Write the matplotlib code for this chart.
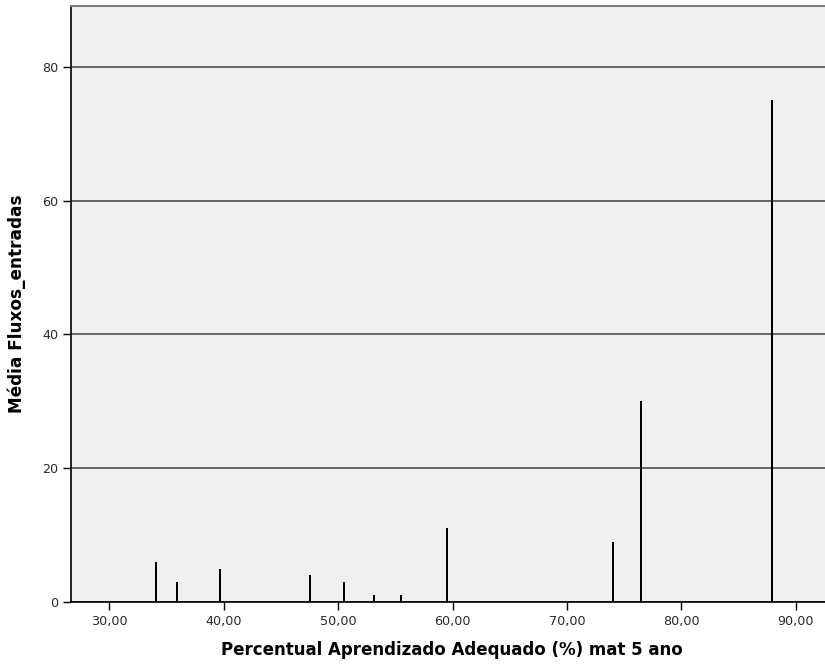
import matplotlib.pyplot as plt

percentual = [34.11, 35.89, 39.65, 47.54, 50.55, 53.17, 55.53, 59.49, 74.0, 76.45, 87.96]
media_fluxos = [6, 3, 5, 4, 3, 1, 1, 11, 9, 30, 75]
xticks = [30, 40, 50, 60, 70, 80, 90]
yticks = [0, 20, 40, 60, 80]

plt.rcParams["font.family"] = ["DejaVu Sans"]

fig = plt.figure(figsize=(8.25, 6.66), dpi=100)
ax = fig.add_axes([71 / 825, 64 / 666, 1 - 71 / 825, 596 / 666])
ax.set_facecolor("#F0F0F0")

ax.set_xlim(26.65, 92.56)
ax.set_ylim(0, 89.1)

ax.set_yticks(yticks)
ax.set_yticklabels([str(v) for v in yticks])
ax.set_xticks(xticks)
ax.set_xticklabels([f"{v:.2f}".replace(".", ",") for v in xticks])

ax.grid(axis="y", color="#666666", linewidth=1.4)
ax.set_axisbelow(True)

ax.bar(percentual, media_fluxos, width=0.17, color="black", zorder=3)

for side in ["left", "bottom"]:
    ax.spines[side].set_color("black")
    ax.spines[side].set_linewidth(1.2)
ax.spines["top"].set_color("#808080")
ax.spines["top"].set_linewidth(1.5)
ax.spines["right"].set_visible(False)

ax.tick_params(axis="both", length=6, width=1, color="black", labelsize=9.2, labelcolor="#2A2A2A", pad=3)

ax.set_xlabel("Percentual Aprendizado Adequado (%) mat 5 ano", fontweight="bold", fontsize=12, labelpad=10)
ax.set_ylabel("Média Fluxos_entradas", fontweight="bold", fontsize=12.2, labelpad=12)
ax.xaxis.label.set_x(0.505)

fig.savefig("out.png", dpi=100)
